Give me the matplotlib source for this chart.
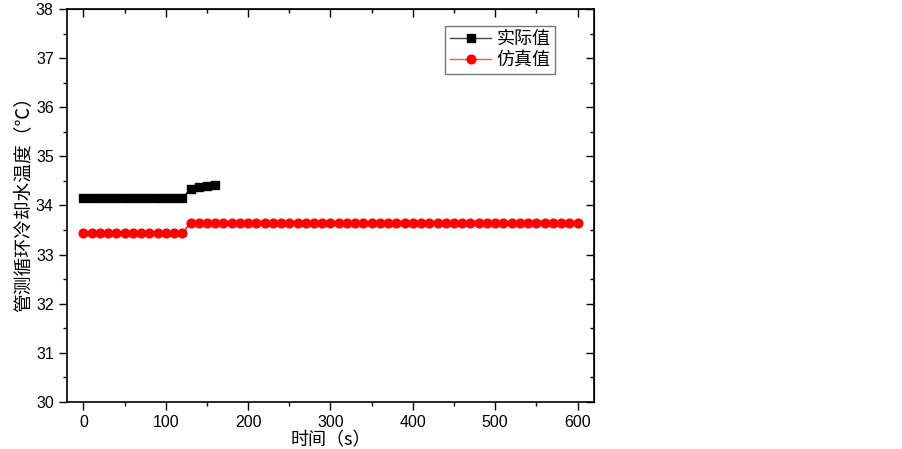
import numpy as np
import matplotlib
matplotlib.use("Agg")
import matplotlib.pyplot as plt
from matplotlib.ticker import MultipleLocator

plt.rcParams['font.family'] = ['Liberation Sans', 'Noto Sans CJK SC', 'DejaVu Sans']
cjk = ['Noto Sans CJK SC', 'DejaVu Sans']

# 实际值 (measured)
actual_t = [0, 10, 20, 30, 40, 50, 60, 70, 80, 90, 100, 110, 120, 130, 140, 150, 160]
actual_v = [34.15, 34.15, 34.15, 34.15, 34.15, 34.15, 34.15, 34.15, 34.15, 34.15, 34.15, 34.15, 34.15,
            34.33, 34.37, 34.40, 34.42]

# 仿真值 (simulated)
sim_t = list(range(0, 601, 10))
sim_v = [33.43] * 13 + [33.65] * 48

fig = plt.figure(figsize=(9.03, 4.49), dpi=100)
ax = fig.add_axes([0.0742, 0.1047, 0.5836, 0.8753])

ax.plot(actual_t, actual_v, color='black', marker='s', markersize=5.5, linewidth=1, label='实际值')
ax.plot(sim_t, sim_v, color='red', marker='o', markersize=6.3, linewidth=1, label='仿真值')

ax.set_xlim(-20, 620)
ax.set_ylim(30, 38)
ax.xaxis.set_major_locator(MultipleLocator(100))
ax.xaxis.set_minor_locator(MultipleLocator(50))
ax.yaxis.set_major_locator(MultipleLocator(1))
ax.yaxis.set_minor_locator(MultipleLocator(0.5))
ax.tick_params(which='both', direction='out', top=False, right=False, labelsize=11.5, width=1)
ax.tick_params(which='major', length=6)
ax.tick_params(which='minor', length=3)

# inward ticks on top and right
for side in ['top', 'right']:
    sec = ax.secondary_xaxis('top') if side == 'top' else ax.secondary_yaxis('right')
    axis = sec.xaxis if side == 'top' else sec.yaxis
    axis.set_major_locator(MultipleLocator(100 if side == 'top' else 1))
    axis.set_minor_locator(MultipleLocator(50 if side == 'top' else 0.5))
    sec.tick_params(which='both', direction='in', labelleft=False, labelright=False,
                    labeltop=False, labelbottom=False, width=1)
    sec.tick_params(which='major', length=6)
    sec.tick_params(which='minor', length=3)

for s in ax.spines.values():
    s.set_linewidth(1.2)

ax.set_xlabel('时间（s）', fontsize=13, labelpad=1, family=cjk)
ax.set_ylabel('管测循环冷却水温度（℃）', fontsize=13.5, family=cjk)
ax.yaxis.set_label_coords(-0.062, 0.515)

leg = ax.legend(loc='upper left', bbox_to_anchor=(0.718, 0.957), frameon=True,
                prop={'family': cjk, 'size': 13},
                fancybox=False, edgecolor='#555555', handlelength=2.3, borderpad=0.25,
                labelspacing=0.15, handletextpad=0.3, borderaxespad=0)
leg.get_frame().set_linewidth(1)
for h, c, lc in zip(leg.get_lines(), ['black', 'red'], ['#444444', '#ff5050']):
    h.set_color(lc)
    h.set_markerfacecolor(c)
    h.set_markeredgecolor(c)

fig.savefig('out.png', dpi=100)
